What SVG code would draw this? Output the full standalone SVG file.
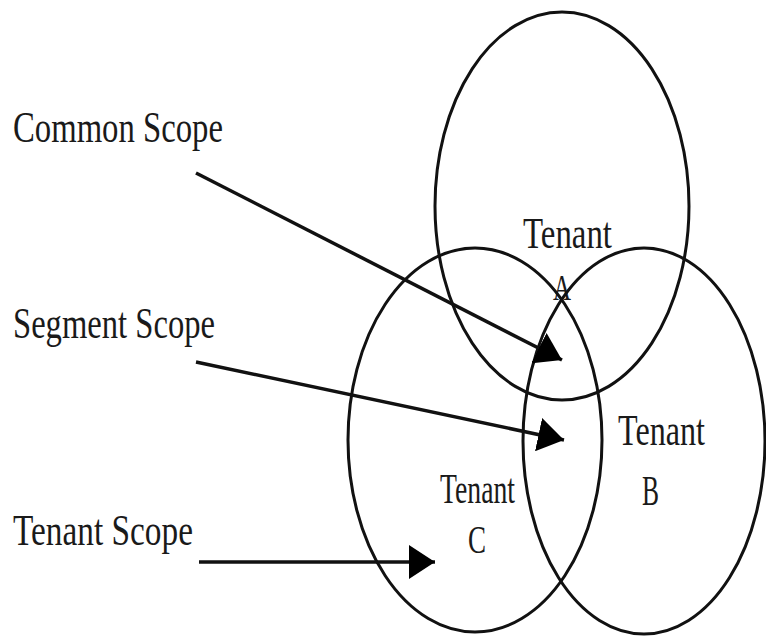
<svg xmlns="http://www.w3.org/2000/svg" width="766" height="636" viewBox="0 0 766 636">
<style>
.c{fill:none;stroke:#111;stroke-width:3}
.t{font-family:"Liberation Serif","Times New Roman",serif;fill:#1a1a1a}
.a{stroke:#111;stroke-width:3.5;fill:none;marker-end:url(#ah)}
</style>
<defs>
<marker id="ah" viewBox="0 0 26 34" refX="26" refY="17" markerWidth="26" markerHeight="34" markerUnits="userSpaceOnUse" orient="auto">
<path d="M0,0 L26,17 L0,34 Z" fill="#000"/>
</marker>
</defs>
<rect width="766" height="636" fill="#fff"/>
<g id="tenantA">
<ellipse class="c" cx="562" cy="206" rx="127" ry="194"/>
<text class="t" x="523" y="248" font-size="45" textLength="89" lengthAdjust="spacingAndGlyphs">Tenant</text>
<text class="t" x="553" y="300" font-size="36" textLength="18" lengthAdjust="spacingAndGlyphs">A</text>
</g>
<g id="tenantC">
<ellipse class="c" cx="475" cy="440" rx="127" ry="192"/>
<text class="t" x="440" y="503" font-size="42" textLength="75" lengthAdjust="spacingAndGlyphs">Tenant</text>
<text class="t" x="468" y="553" font-size="40" textLength="18" lengthAdjust="spacingAndGlyphs">C</text>
</g>
<g id="tenantB">
<ellipse class="c" cx="644" cy="441" rx="121" ry="193"/>
<text class="t" x="618" y="445" font-size="45" textLength="87" lengthAdjust="spacingAndGlyphs">Tenant</text>
<text class="t" x="642" y="505" font-size="42" textLength="17" lengthAdjust="spacingAndGlyphs">B</text>
</g>
<g id="commonScope">
<text class="t" x="13" y="142" font-size="45" textLength="210" lengthAdjust="spacingAndGlyphs">Common Scope</text>
</g>
<g id="segmentScope">
<text class="t" x="13" y="338" font-size="45" textLength="202" lengthAdjust="spacingAndGlyphs">Segment Scope</text>
</g>
<g id="tenantScope">
<text class="t" x="13" y="545" font-size="45" textLength="180" lengthAdjust="spacingAndGlyphs">Tenant Scope</text>
</g>
<g id="connectors">
<line class="a" x1="196" y1="173" x2="562" y2="360"/>
<line class="a" x1="196" y1="362" x2="564" y2="440"/>
<line class="a" x1="199" y1="562" x2="435" y2="562"/>
</g>
</svg>
